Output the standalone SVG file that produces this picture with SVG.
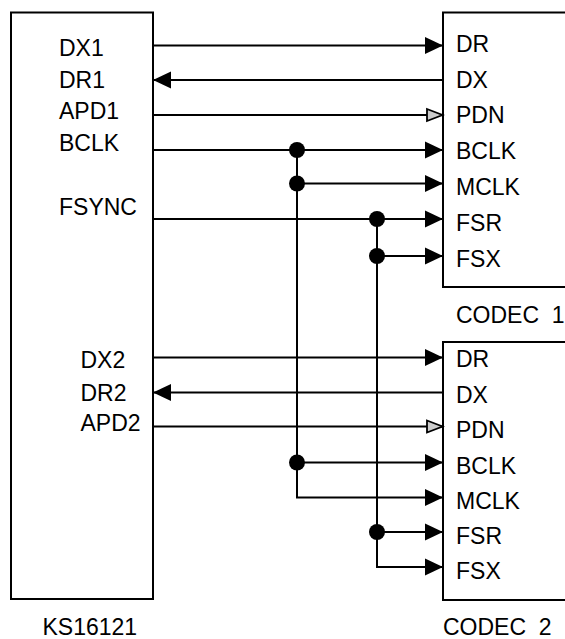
<svg xmlns="http://www.w3.org/2000/svg" width="565" height="639" viewBox="0 0 565 639">
<style>
.box{fill:#fff;stroke:#000;stroke-width:2}
.w{fill:none;stroke:#000;stroke-width:2}
text{font-family:"Liberation Sans",Arial,sans-serif;font-size:23px;fill:#000}
.dot{fill:#000}
</style>
<defs>
<marker id="af" markerUnits="userSpaceOnUse" markerWidth="18" markerHeight="17" refX="18" refY="8.5" orient="auto" overflow="visible">
<path d="M0,0 L18,8.5 L0,17 Z" fill="#000"/>
</marker>
<marker id="ah" markerUnits="userSpaceOnUse" markerWidth="17" markerHeight="14" refX="17" refY="7" orient="auto" overflow="visible">
<path d="M1,1 L16.5,7 L1,13 Z" fill="#ccc" stroke="#000" stroke-width="1.8"/>
</marker>
</defs>
<g id="ks16121">
<rect class="box" x="11" y="12.5" width="142" height="586.5"/>
<text x="59" y="56">DX1</text>
<text x="59" y="88">DR1</text>
<text x="59" y="119">APD1</text>
<text x="59" y="151">BCLK</text>
<text x="59" y="215">FSYNC</text>
<text x="80.5" y="368">DX2</text>
<text x="80.5" y="400.5">DR2</text>
<text x="80.5" y="431">APD2</text>
<text x="42.5" y="635">KS16121</text>
</g>
<g id="codec1">
<rect class="box" x="443" y="12.5" width="140" height="274.5"/>
<text x="456" y="52">DR</text>
<text x="456" y="88">DX</text>
<text x="456" y="123">PDN</text>
<text x="456" y="159">BCLK</text>
<text x="456" y="195">MCLK</text>
<text x="456" y="231">FSR</text>
<text x="456" y="267">FSX</text>
<text x="456" y="323" xml:space="preserve">CODEC  1</text>
</g>
<g id="codec2">
<rect class="box" x="443" y="342" width="140" height="258"/>
<text x="456" y="367">DR</text>
<text x="456" y="403">DX</text>
<text x="456" y="438">PDN</text>
<text x="456" y="474">BCLK</text>
<text x="456" y="509">MCLK</text>
<text x="456" y="544">FSR</text>
<text x="456" y="579">FSX</text>
<text x="443" y="635" xml:space="preserve">CODEC  2</text>
</g>
<g id="connectors">
<line class="w" x1="153" y1="45.5" x2="443" y2="45.5" marker-end="url(#af)"/>
<line class="w" x1="443" y1="80" x2="153" y2="80" marker-end="url(#af)"/>
<line class="w" x1="153" y1="115" x2="443" y2="115" marker-end="url(#ah)"/>
<line class="w" x1="153" y1="150" x2="443" y2="150" marker-end="url(#af)"/>
<line class="w" x1="297" y1="183.5" x2="443" y2="183.5" marker-end="url(#af)"/>
<line class="w" x1="153" y1="219" x2="443" y2="219" marker-end="url(#af)"/>
<line class="w" x1="377" y1="256" x2="443" y2="256" marker-end="url(#af)"/>
<line class="w" x1="153" y1="357.5" x2="443" y2="357.5" marker-end="url(#af)"/>
<line class="w" x1="443" y1="392.5" x2="153" y2="392.5" marker-end="url(#af)"/>
<line class="w" x1="153" y1="426.5" x2="443" y2="426.5" marker-end="url(#ah)"/>
<line class="w" x1="297" y1="462.5" x2="443" y2="462.5" marker-end="url(#af)"/>
<path class="w" d="M297,150 V497.5 H443" marker-end="url(#af)"/>
<line class="w" x1="377" y1="532" x2="443" y2="532" marker-end="url(#af)"/>
<path class="w" d="M377,219 V567 H443" marker-end="url(#af)"/>
<circle class="dot" cx="297" cy="150" r="8"/>
<circle class="dot" cx="297" cy="183.5" r="8"/>
<circle class="dot" cx="377" cy="219" r="8"/>
<circle class="dot" cx="377" cy="256" r="8"/>
<circle class="dot" cx="297" cy="462.5" r="8"/>
<circle class="dot" cx="377" cy="532" r="8"/>
</g>
</svg>
